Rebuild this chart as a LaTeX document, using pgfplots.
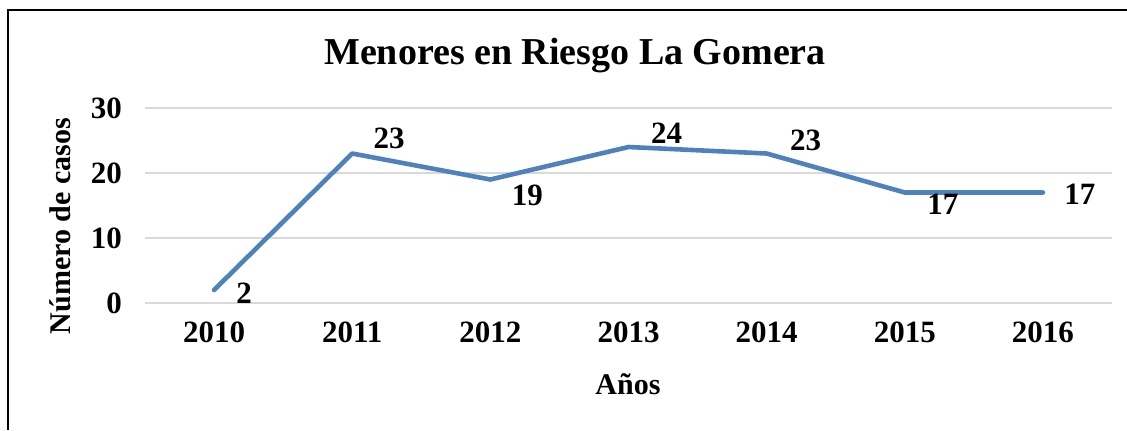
\documentclass[border=0pt]{standalone}
\usepackage{pgfplots}
\pgfplotsset{compat=1.18}
\usepackage{fontspec}
\setmainfont{Liberation Serif}
\definecolor{linea}{HTML}{4F81BD}
\definecolor{rejilla}{HTML}{D9D9D9}

\pgfplotstableread{
x y dx dy
0 2 15 -1.5
1 23 18.5 7.5
2 19 18.5 -7.75
3 24 19 7
4 23 19.5 6.75
5 17 19 -6
6 17 18.5 -0.75
}\datos

\begin{document}
\begin{tikzpicture}
\useasboundingbox (0,0) rectangle (563.5pt,-215pt);
\draw[line width=1.1pt] (4pt,-215pt) -- (4pt,-5pt) -- (563.5pt,-5pt);
\node[font=\fontsize{19}{21}\selectfont\bfseries] at (287.5pt,-28pt) {Menores en Riesgo La Gomera};
\node[font=\fontsize{15}{17}\selectfont\bfseries, rotate=90] at (30pt,-113pt) {Número de casos};
\node[font=\fontsize{15}{17}\selectfont\bfseries] at (314pt,-192pt) {Años};
\begin{axis}[
    at={(72.5pt,-151.5pt)}, anchor=south west,
    scale only axis,
    width=483.5pt, height=97.5pt,
    xmin=-0.5, xmax=6.5,
    ymin=0, ymax=30,
    xtick=data,
    xticklabels={2010,2011,2012,2013,2014,2015,2016},
    ytick={0,10,20,30},
    axis line style={draw=none},
    major tick length=0pt,
    ymajorgrids,
    grid style={rejilla, line width=0.8pt},
    ticklabel style={font=\fontsize{15.5}{17}\selectfont\bfseries, /pgf/number format/assume math mode=true},
    xticklabel style={yshift=-6pt},
    yticklabel style={xshift=-8pt},
    clip=false,
    nodes near coords={\pgfmathprintnumber[/pgf/number format/assume math mode=true]{\pgfplotspointmeta}},
    point meta=explicit,
    visualization depends on={\thisrow{dx} \as \ddx},
    visualization depends on={\thisrow{dy} \as \ddy},
    every node near coord/.append style={
        anchor=center, xshift=\ddx pt, yshift=\ddy pt,
        font=\fontsize{15.5}{17}\selectfont\bfseries, text=black},
]
\addplot[linea, line width=2.3pt, line cap=round, line join=round, mark=none]
    table[x=x, y=y, meta=y] {\datos};
\end{axis}
\end{tikzpicture}
\end{document}
